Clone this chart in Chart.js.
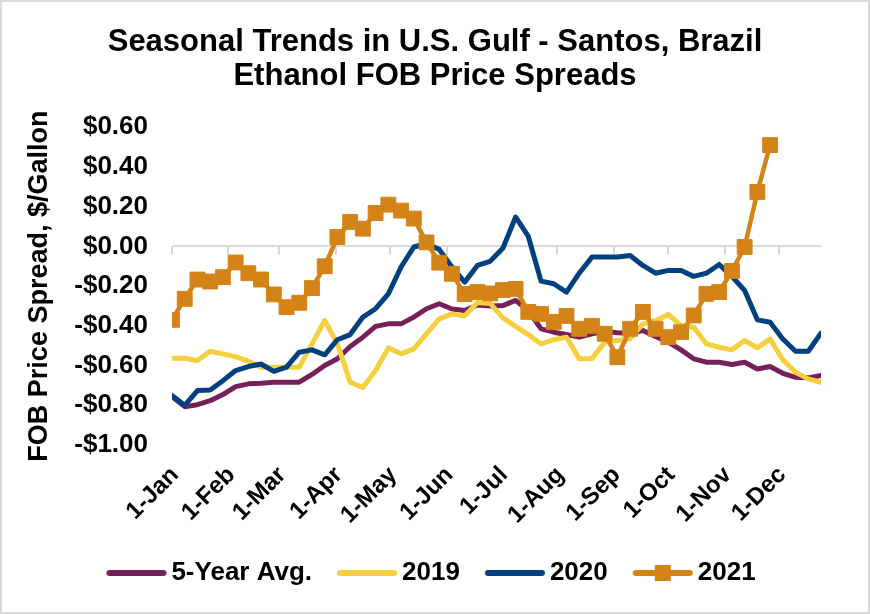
<!DOCTYPE html>
<html>
<head>
<meta charset="utf-8">
<script src="https://cdn.jsdelivr.net/npm/chart.js@4.4.1/dist/chart.umd.min.js"></script>
<style>
  html, body { margin: 0; padding: 0; background: #ffffff; }
  #wrap { width: 870px; height: 614px; position: relative; }
</style>
</head>
<body>
<div id="wrap"><canvas id="c" width="870" height="614"></canvas></div>
<script>
// ---- Data ----
// Weekly observations, as day-of-year offsets from 1-Jan
const weekDays = [0,7,14,21,28,35,42,49,56,63,70,77,84,91,98,105,112,119,126,133,140,147,154,161,168,175,182,189,196,203,210,217,224,231,238,245,252,259,266,273,280,287,294,301,308,315,322,329,336,343,350,357];

// Tick positions (day-of-year of each month start) and their labels
const monthStarts = [0,31,59,90,120,151,181,212,243,273,304,334];
const monthLabels = ['1-Jan','1-Feb','1-Mar','1-Apr','1-May','1-Jun','1-Jul','1-Aug','1-Sep','1-Oct','1-Nov','1-Dec'];

// Y axis ticks
const yTickValues = [-1.0,-0.8,-0.6,-0.4,-0.2,0.0,0.2,0.4,0.6];

// Series ($/gallon)
const avg5Year = [-0.756,-0.807,-0.797,-0.777,-0.746,-0.706,-0.692,-0.689,-0.684,-0.684,-0.684,-0.645,-0.600,-0.566,-0.504,-0.457,-0.403,-0.390,-0.390,-0.356,-0.314,-0.289,-0.315,-0.323,-0.295,-0.300,-0.298,-0.272,-0.325,-0.415,-0.432,-0.444,-0.457,-0.440,-0.427,-0.435,-0.437,-0.424,-0.454,-0.482,-0.521,-0.566,-0.583,-0.583,-0.595,-0.583,-0.617,-0.605,-0.639,-0.659,-0.662,-0.650];
const y2019 = [-0.563,-0.563,-0.575,-0.528,-0.541,-0.555,-0.578,-0.608,-0.608,-0.608,-0.608,-0.491,-0.373,-0.491,-0.684,-0.710,-0.625,-0.511,-0.541,-0.516,-0.440,-0.365,-0.340,-0.350,-0.283,-0.287,-0.360,-0.403,-0.444,-0.491,-0.470,-0.457,-0.566,-0.566,-0.482,-0.474,-0.465,-0.390,-0.373,-0.343,-0.398,-0.407,-0.491,-0.508,-0.521,-0.474,-0.511,-0.466,-0.571,-0.634,-0.667,-0.684];
const y2020 = [-0.751,-0.800,-0.726,-0.723,-0.676,-0.625,-0.605,-0.592,-0.629,-0.608,-0.533,-0.521,-0.546,-0.470,-0.444,-0.356,-0.314,-0.239,-0.104,-0.003,0.013,-0.015,-0.104,-0.180,-0.096,-0.075,-0.010,0.148,0.050,-0.175,-0.188,-0.230,-0.135,-0.054,-0.054,-0.054,-0.046,-0.096,-0.135,-0.121,-0.121,-0.151,-0.135,-0.091,-0.151,-0.222,-0.370,-0.382,-0.466,-0.528,-0.528,-0.437];
const y2021 = [-0.370,-0.264,-0.167,-0.177,-0.155,-0.081,-0.135,-0.167,-0.242,-0.306,-0.284,-0.210,-0.100,0.047,0.123,0.089,0.168,0.210,0.180,0.140,0.020,-0.082,-0.138,-0.240,-0.230,-0.237,-0.220,-0.214,-0.330,-0.340,-0.380,-0.350,-0.415,-0.400,-0.440,-0.558,-0.415,-0.330,-0.415,-0.457,-0.432,-0.348,-0.239,-0.230,-0.124,-0.003,0.274,0.510];

const seriesNames = ['5-Year Avg.','2019','2020','2021'];
const seriesColors = ['#76205A','#F6CF3F','#01407F','#D48317'];

// ---- Chart ----
const FONT = '"Liberation Sans", Arial, Helvetica, sans-serif';
Chart.defaults.font.family = FONT;
Chart.defaults.color = '#000000';

function toPoints(vals) { return vals.map((v, i) => ({ x: weekDays[i], y: v })); }

function legendSwatch(color, withMarker) {
  const cv = document.createElement('canvas');
  cv.width = 62; cv.height = 20;
  const g = cv.getContext('2d');
  g.strokeStyle = color; g.lineWidth = 6; g.lineCap = 'round';
  g.beginPath(); g.moveTo(4, 10); g.lineTo(58, 10); g.stroke();
  if (withMarker) { g.fillStyle = color; g.fillRect(23, 2, 16, 16); }
  return cv;
}
const swatches = seriesColors.map((c, i) => legendSwatch(c, i === 3));

const borderPlugin = {
  id: 'outerBorder',
  beforeDraw(chart) {
    const c = chart.ctx;
    c.save();
    c.fillStyle = '#ffffff';
    c.fillRect(0, 0, chart.width, chart.height);
    c.strokeStyle = '#D9D9D9';
    c.lineWidth = 2;
    c.strokeRect(1, 1, chart.width - 2, chart.height - 2);
    c.restore();
  }
};

const zeroTickPlugin = {
  id: 'zeroTicks',
  beforeDatasetsDraw(chart) {
    const xs = chart.scales.x, ys = chart.scales.y, c = chart.ctx;
    const y0 = ys.getPixelForValue(0);
    c.save();
    c.strokeStyle = '#D9D9D9';
    c.lineWidth = 2;
    monthStarts.forEach(d => {
      const px = Math.round(xs.getPixelForValue(d));
      c.beginPath(); c.moveTo(px, y0); c.lineTo(px, y0 + 8); c.stroke();
    });
    c.restore();
  }
};

const lineStyle = { borderWidth: 5, pointRadius: 0, pointHoverRadius: 0, tension: 0, borderJoinStyle: 'round', borderCapStyle: 'round', fill: false };

new Chart(document.getElementById('c'), {
  type: 'line',
  data: {
    datasets: [
      Object.assign({ label: seriesNames[0], data: toPoints(avg5Year), borderColor: seriesColors[0], backgroundColor: seriesColors[0], order: 4 }, lineStyle),
      Object.assign({ label: seriesNames[1], data: toPoints(y2019), borderColor: seriesColors[1], backgroundColor: seriesColors[1], order: 3 }, lineStyle),
      Object.assign({ label: seriesNames[2], data: toPoints(y2020), borderColor: seriesColors[2], backgroundColor: seriesColors[2], order: 2 }, lineStyle),
      { label: seriesNames[3], data: toPoints(y2021), borderColor: seriesColors[3], backgroundColor: seriesColors[3], order: 1,
        borderWidth: 4.5, tension: 0, borderJoinStyle: 'round', fill: false,
        pointStyle: 'rect', pointRadius: 10.5, pointHoverRadius: 10.5, pointBorderWidth: 1, pointBorderColor: seriesColors[3], pointBackgroundColor: seriesColors[3] }
    ]
  },
  options: {
    responsive: false,
    devicePixelRatio: 1,
    animation: false,
    events: [],
    layout: { padding: { left: 20, right: 20, top: 10, bottom: 18 } },
    plugins: {
      tooltip: { enabled: false },
      title: {
        display: true,
        text: ['Seasonal Trends in U.S. Gulf - Santos, Brazil', 'Ethanol FOB Price Spreads'],
        color: '#000000',
        font: { size: 31, weight: 'bold', family: FONT, lineHeight: 1.1 },
        padding: { top: 15, bottom: 34 }
      },
      legend: {
        display: true,
        position: 'bottom',
        labels: {
          usePointStyle: true,
          pointStyleWidth: 44,
          padding: 33,
          color: '#000000',
          font: { size: 26, weight: 'bold', family: FONT },
          generateLabels(chart) {
            return chart.data.datasets.map((ds, i) => ({
              text: ds.label,
              pointStyle: swatches[i],
              fillStyle: ds.borderColor,
              strokeStyle: ds.borderColor,
              lineWidth: 0,
              hidden: false,
              fontColor: '#000000',
              datasetIndex: i
            }));
          }
        }
      }
    },
    scales: {
      x: {
        type: 'linear',
        min: 0,
        max: 357,
        grid: { display: false, drawTicks: false },
        border: { display: false },
        afterBuildTicks(scale) { scale.ticks = monthStarts.map(v => ({ value: v })); },
        afterFit(scale) { scale.height = 82; },
        ticks: {
          autoSkip: false,
          maxRotation: 45,
          minRotation: 45,
          padding: 16,
          labelOffset: 3,
          color: '#000000',
          font: { size: 24, weight: 'bold', family: FONT },
          callback(value) { const k = monthStarts.indexOf(value); return k >= 0 ? monthLabels[k] : ''; }
        }
      },
      y: {
        type: 'linear',
        position: 'left',
        min: -1,
        max: 0.6,
        afterBuildTicks(scale) { scale.ticks = yTickValues.map(v => ({ value: v })); },
        afterFit(scale) { scale.width = 152; },
        grid: {
          drawTicks: false,
          lineWidth: 2,
          color(ctx) { return (ctx.tick && Math.abs(ctx.tick.value) < 1e-9) ? '#D9D9D9' : 'rgba(0,0,0,0)'; }
        },
        border: { display: false },
        title: {
          display: true,
          text: 'FOB Price Spread, $/Gallon',
          color: '#000000',
          font: { size: 27, weight: 'bold', family: FONT },
          padding: { top: 3, bottom: 0 }
        },
        ticks: {
          autoSkip: false,
          padding: 24,
          color: '#000000',
          font: { size: 26, weight: 'bold', family: FONT },
          callback(value) {
            const v = Math.abs(value) < 1e-9 ? 0 : value;
            return (v < 0 ? '-' : '') + '$' + Math.abs(v).toFixed(2);
          }
        }
      },
      yRight: {
        type: 'linear',
        position: 'right',
        display: true,
        grid: { display: false, drawTicks: false },
        border: { display: false },
        ticks: { display: false },
        afterFit(scale) { scale.width = 29; }
      }
    }
  },
  plugins: [borderPlugin, zeroTickPlugin]
});
</script>
</body>
</html>
